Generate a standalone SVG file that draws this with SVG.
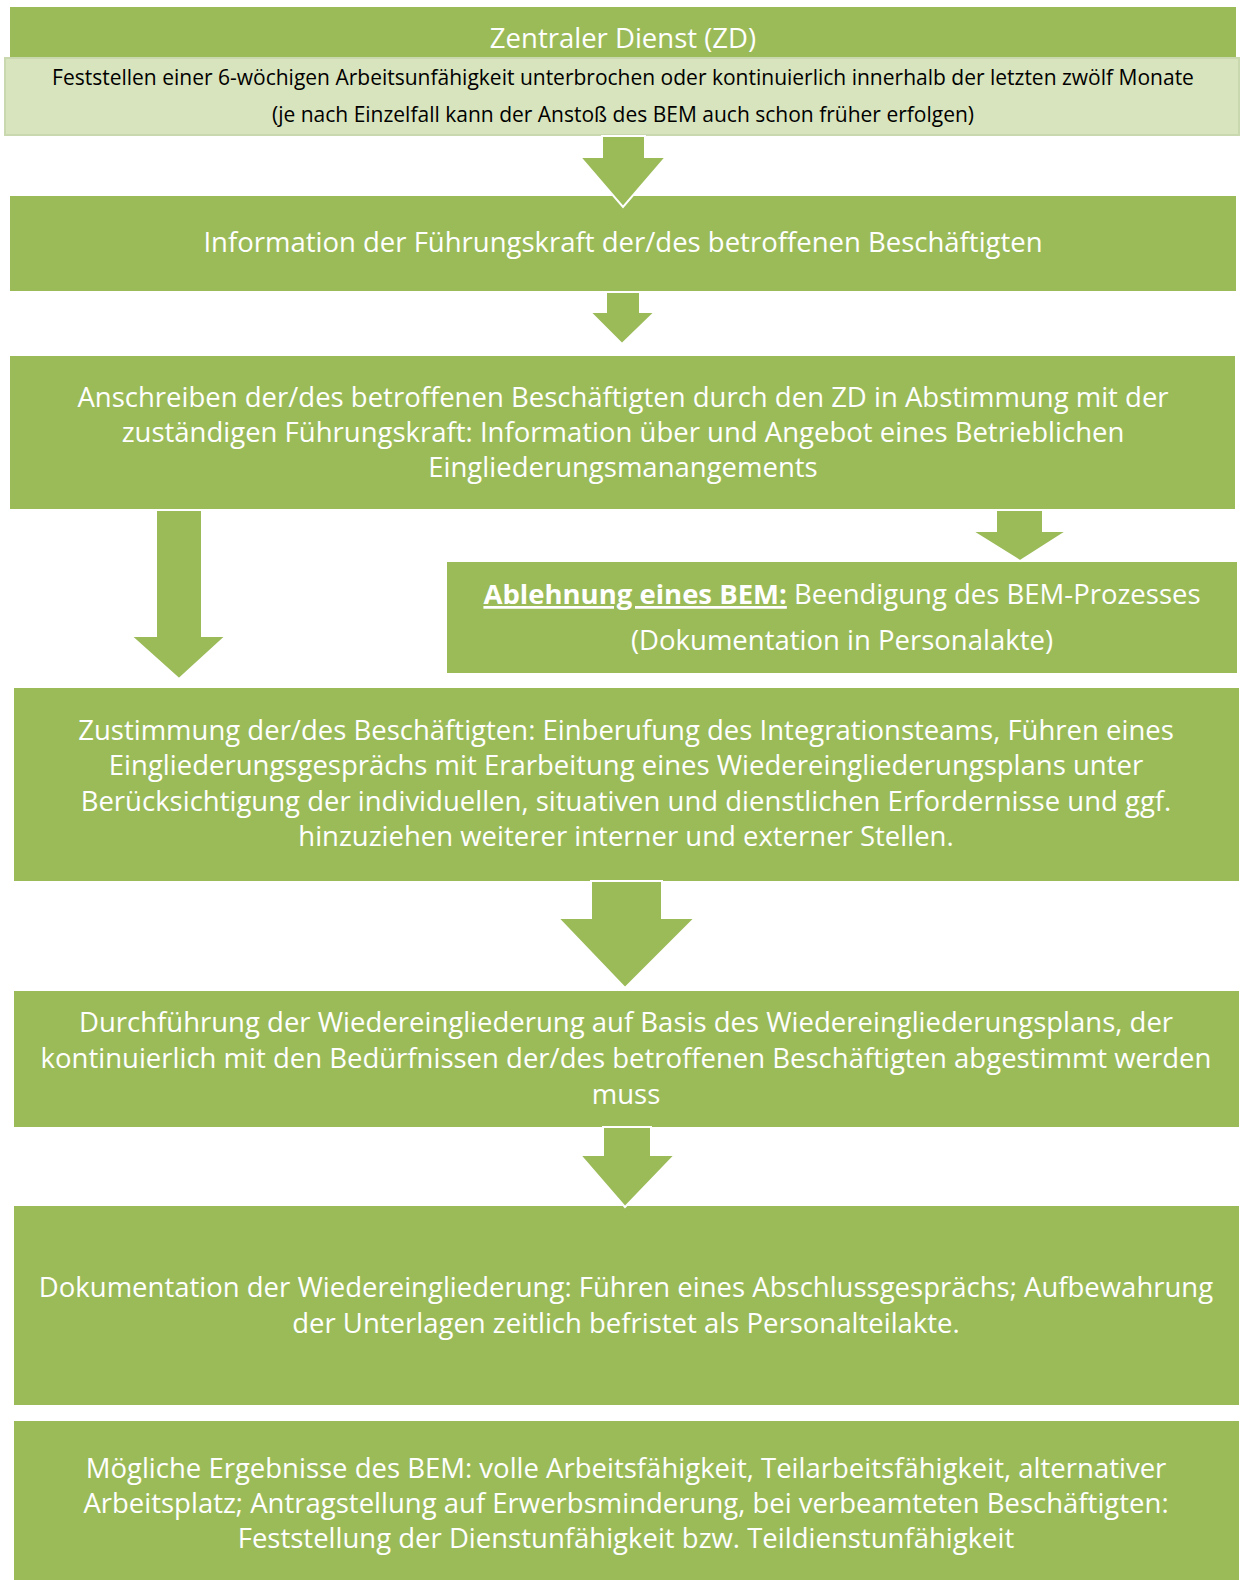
<svg xmlns="http://www.w3.org/2000/svg" width="1241" height="1580" viewBox="0 0 1241 1580">
<style>
.box{fill:#9BBB59;}
.light{fill:#D8E4BD;stroke:#C9D8AE;stroke-width:2;}
.arrow{fill:#9BBB59;stroke:#FFFFFF;stroke-width:2;stroke-linejoin:miter;}
.t{font-family:"Open Sans","Noto Sans",sans-serif;font-size:27.5px;fill:#FFFFFF;text-anchor:middle;}
.s{font-family:"Open Sans","Noto Sans",sans-serif;font-size:21px;fill:#000000;text-anchor:middle;}
.b{font-weight:bold;text-decoration:underline;}
</style>
<rect width="1241" height="1580" fill="#FFFFFF"/>
<g id="zd">
<rect class="box" x="10" y="7" width="1226" height="128"/>
<rect class="light" x="5" y="58" width="1234" height="77"/>
<text class="t" x="623" y="48">Zentraler Dienst (ZD)</text>
<text class="s" x="623" y="85">Feststellen einer 6-wöchigen Arbeitsunfähigkeit unterbrochen oder kontinuierlich innerhalb der letzten zwölf Monate</text>
<text class="s" x="623" y="122">(je nach Einzelfall kann der Anstoß des BEM auch schon früher erfolgen)</text>
</g>
<g id="info">
<rect class="box" x="10" y="196" width="1226" height="95"/>
<text class="t" x="623" y="252">Information der Führungskraft der/des betroffenen Beschäftigten</text>
</g>
<g id="anschreiben">
<rect class="box" x="10" y="356" width="1225" height="153"/>
<text class="t" x="623" y="407">Anschreiben der/des betroffenen Beschäftigten durch den ZD in Abstimmung mit der</text>
<text class="t" x="623" y="442">zuständigen Führungskraft: Information über und Angebot eines Betrieblichen</text>
<text class="t" x="623" y="477">Eingliederungsmanangements</text>
</g>
<g id="ablehnung">
<rect class="box" x="447" y="562" width="790" height="111"/>
<text class="t" x="842" y="604"><tspan class="b">Ablehnung eines BEM:</tspan> Beendigung des BEM-Prozesses</text>
<text class="t" x="842" y="650">(Dokumentation in Personalakte)</text>
</g>
<g id="zustimmung">
<rect class="box" x="14" y="688" width="1225" height="193"/>
<text class="t" x="626" y="740">Zustimmung der/des Beschäftigten: Einberufung des Integrationsteams, Führen eines</text>
<text class="t" x="626" y="775">Eingliederungsgesprächs mit Erarbeitung eines Wiedereingliederungsplans unter</text>
<text class="t" x="626" y="811">Berücksichtigung der individuellen, situativen und dienstlichen Erfordernisse und ggf.</text>
<text class="t" x="626" y="846">hinzuziehen weiterer interner und externer Stellen.</text>
</g>
<g id="durchfuehrung">
<rect class="box" x="14" y="991" width="1225" height="136"/>
<text class="t" x="626" y="1032">Durchführung der Wiedereingliederung auf Basis des Wiedereingliederungsplans, der</text>
<text class="t" x="626" y="1068">kontinuierlich mit den Bedürfnissen der/des betroffenen Beschäftigten abgestimmt werden</text>
<text class="t" x="626" y="1104">muss</text>
</g>
<g id="dokumentation">
<rect class="box" x="14" y="1206" width="1225" height="199"/>
<text class="t" x="626" y="1297">Dokumentation der Wiedereingliederung: Führen eines Abschlussgesprächs; Aufbewahrung</text>
<text class="t" x="626" y="1333">der Unterlagen zeitlich befristet als Personalteilakte.</text>
</g>
<g id="ergebnisse">
<rect class="box" x="14" y="1421" width="1225" height="159"/>
<text class="t" x="626" y="1478">Mögliche Ergebnisse des BEM: volle Arbeitsfähigkeit, Teilarbeitsfähigkeit, alternativer</text>
<text class="t" x="626" y="1513">Arbeitsplatz; Antragstellung auf Erwerbsminderung, bei verbeamteten Beschäftigten:</text>
<text class="t" x="626" y="1548">Feststellung der Dienstunfähigkeit bzw. Teildienstunfähigkeit</text>
</g>
<g id="connectors">
<polygon class="arrow" points="602,136 645,136 645,157 666,157 623,207 580,157 602,157"/>
<polygon class="arrow" points="606,292 640,292 640,312 655,312 622,344 590,312 606,312"/>
<polygon class="arrow" points="156,510 202,510 202,636 226,636 179,679 131,636 156,636"/>
<polygon class="arrow" points="996,510 1043,510 1043,531 1067,531 1020,561 972,531 996,531"/>
<polygon class="arrow" points="591,881 662,881 662,918 695,918 625,988 558,918 591,918"/>
<polygon class="arrow" points="603,1127 651,1127 651,1155 675,1155 625,1207 580,1155 603,1155"/>
</g>
</svg>
